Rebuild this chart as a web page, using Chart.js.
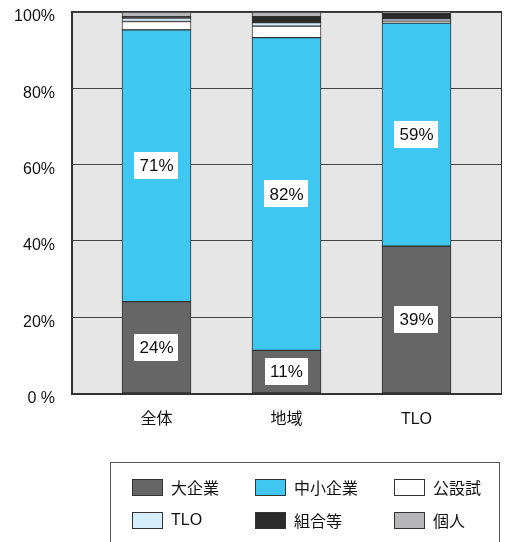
<!DOCTYPE html>
<html><head><meta charset="utf-8">
<script src="https://cdn.jsdelivr.net/npm/chart.js@4.4.1/dist/chart.umd.min.js"></script>
<style>
html,body{margin:0;padding:0;background:#fff;}
#wrap{position:relative;width:512px;height:542px;overflow:hidden;}
#c{position:absolute;left:0;top:0;}
#legend{position:absolute;left:110px;top:462px;width:390px;height:100px;border:1px solid #555;box-sizing:border-box;}
.item{position:absolute;display:flex;align-items:center;height:18px;font:16px "Noto Sans CJK JP",sans-serif;color:#111;line-height:18px;}
.item.latin{font-family:"Liberation Sans","Noto Sans CJK JP",sans-serif;}
.sw{width:31px;height:17px;box-sizing:border-box;border:1px solid #333;margin-right:8px;flex:none;}
</style></head>
<body><div id="wrap"><canvas id="c" width="512" height="542"></canvas><div id="legend"></div></div>
<script>
const categories = ['全体', '地域', 'TLO'];
const seriesNames = ['大企業', '中小企業', '公設試', 'TLO', '組合等', '個人'];
const largeCo = [24.1, 11.3, 38.6];
const smeCo = [71.2, 82.0, 58.5];
const publicLab = [2.2, 3.0, 0.5];
const tloShare = [0.9, 0.9, 0.6];
const unions = [0.4, 1.6, 1.5];
const individuals = [1.2, 1.2, 0.3];
const yTicks = [0, 20, 40, 60, 80, 100];
const yTickLabels = ['0 %', '20%', '40%', '60%', '80%', '100%'];

const seriesValues = [largeCo, smeCo, publicLab, tloShare, unions, individuals];
const seriesColors = ['#666666', '#3fc6f1', '#ffffff', '#d6eefb', '#2b2b2b', '#b6b6b9'];
const labeledSeries = [0, 1];
const NUM_FONT = '"Liberation Sans", "Noto Sans CJK JP", sans-serif';
const X_MIN = -0.65, X_MAX = 2.65;

const plotBg = {
  id: 'plotBg',
  beforeDraw(chart) {
    const {ctx, chartArea: a} = chart;
    ctx.save();
    ctx.fillStyle = '#e6e6e6';
    ctx.fillRect(a.left, a.top, a.right - a.left, a.bottom - a.top);
    ctx.restore();
  },
  afterDatasetsDraw(chart) {
    const {ctx, chartArea: a} = chart;
    ctx.save();
    ctx.strokeStyle = '#333';
    ctx.lineWidth = 1;
    ctx.strokeRect(Math.round(a.left) - 0.5, Math.round(a.top) - 0.5, Math.round(a.right - a.left) + 1, Math.round(a.bottom - a.top) + 1);
    ctx.font = '17px ' + NUM_FONT;
    ctx.textAlign = 'center';
    ctx.textBaseline = 'middle';
    labeledSeries.forEach(k => {
      const meta = chart.getDatasetMeta(k);
      meta.data.forEach((bar, i) => {
        const txt = Math.round(seriesValues[k][i]) + '%';
        const cy = (bar.y + bar.base) / 2;
        const w = ctx.measureText(txt).width + 10;
        const h = 27;
        ctx.fillStyle = '#fff';
        ctx.fillRect(Math.round(bar.x - w / 2), Math.round(cy - h / 2), Math.round(w), h);
        ctx.fillStyle = '#111';
        ctx.fillText(txt, bar.x, cy + 1);
      });
    });
    ctx.restore();
  }
};

new Chart(document.getElementById('c'), {
  type: 'bar',
  data: {
    datasets: seriesValues.map((vals, k) => ({
      label: seriesNames[k],
      data: vals.map((v, i) => ({x: i, y: v})),
      backgroundColor: seriesColors[k],
      borderColor: '#333',
      borderWidth: 1,
      borderSkipped: false,
      barThickness: 69
    }))
  },
  options: {
    responsive: false,
    animation: false,
    layout: {padding: {top: 12, right: 11, left: 0, bottom: 0}},
    plugins: {legend: {display: false}, tooltip: {enabled: false}},
    scales: {
      x: {
        type: 'linear',
        min: X_MIN,
        max: X_MAX,
        offset: false,
        bounds: 'data',
        stacked: true,
        grid: {display: false, offset: false},
        border: {display: true, color: '#333'},
        afterDataLimits: s => { s.min = X_MIN; s.max = X_MAX; },
        afterBuildTicks: s => { s.min = X_MIN; s.max = X_MAX; s.ticks = categories.map((c, i) => ({value: i})); },
        afterFit: s => { s.height = 148.5; },
        ticks: {
          autoSkip: false, maxRotation: 0, padding: 8, color: '#111',
          font: {size: 16, family: NUM_FONT},
          callback: v => categories[v] ?? ''
        }
      },
      y: {
        min: 0,
        max: 100,
        stacked: true,
        grid: {color: '#444', drawTicks: false},
        border: {display: true, color: '#333'},
        afterBuildTicks: s => { s.ticks = yTicks.map(v => ({value: v})); },
        afterFit: s => { s.width = 72; s.paddingTop = 0; s.paddingBottom = 0; },
        ticks: {
          padding: 17, color: '#111', labelOffset: 5,
          font: {size: 16, family: NUM_FONT},
          callback: v => yTickLabels[yTicks.indexOf(v)]
        }
      }
    }
  },
  plugins: [plotBg]
});

const legend = document.getElementById('legend');
const colX = [21, 144, 283];
const rowY = [15, 48];
seriesNames.forEach((name, k) => {
  const item = document.createElement('div');
  item.className = 'item' + (/^[A-Za-z]+$/.test(name) ? ' latin' : '');
  item.style.left = colX[k % 3] + 'px';
  item.style.top = rowY[Math.floor(k / 3)] + 'px';
  const sw = document.createElement('span');
  sw.className = 'sw';
  sw.style.background = seriesColors[k];
  const t = document.createElement('span');
  t.textContent = name;
  item.appendChild(sw);
  item.appendChild(t);
  legend.appendChild(item);
});
</script>
</body></html>
